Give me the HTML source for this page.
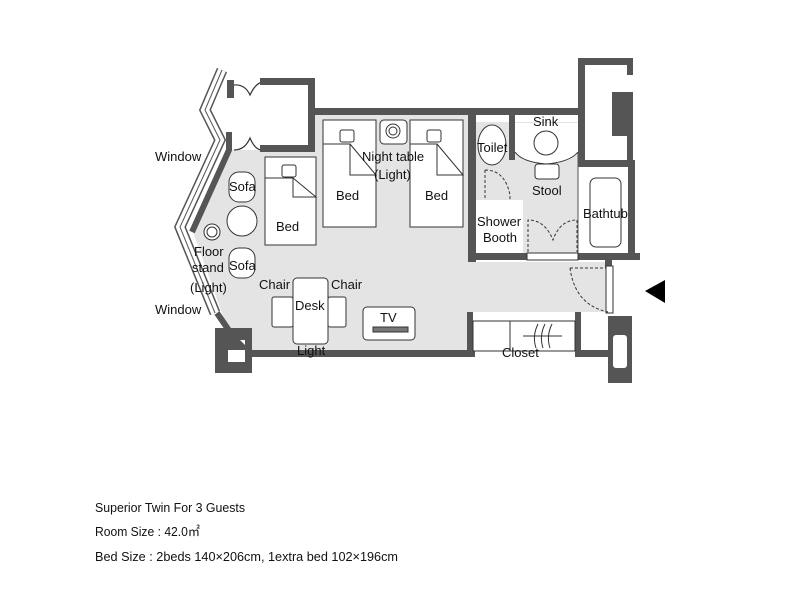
<!DOCTYPE html>
<html><head><meta charset="utf-8"><style>
html,body{margin:0;padding:0;background:#fff;width:800px;height:600px;overflow:hidden}
svg{display:block}
text{font-family:"Liberation Sans","DejaVu Sans",sans-serif;fill:#111}
</style></head><body>
<svg width="800" height="600" viewBox="0 0 800 600" xmlns="http://www.w3.org/2000/svg">
<polygon points="230,150 260,150 262,152 315,152 315,115 470,115 470,262 610,262 610,312 470,312 470,350 250,350 228,330 193,232" fill="#e4e4e4"/>
<rect x="476" y="122" width="102" height="132" fill="#e4e4e4"/>
<rect x="515" y="123" width="63" height="29" fill="#fff"/>
<rect x="476" y="200" width="47" height="53" fill="#fff"/>
<rect x="580" y="168" width="48" height="85" fill="#fff"/>
<line x1="578" y1="152" x2="578" y2="253" stroke="#555" stroke-width="1"/>
<polyline points="222,70 205,110 220,140 180,227 215,313" fill="none" stroke="#555" stroke-width="11" stroke-linejoin="miter"/>
<polyline points="222,70 205,110 220,140 180,227 215,313" fill="none" stroke="#fff" stroke-width="8" stroke-linejoin="miter"/>
<polyline points="222,70 205,110 220,140 180,227 215,313" fill="none" stroke="#555" stroke-width="1"/>
<polyline points="229,132 229,150 192,232" fill="none" stroke="#555" stroke-width="6"/>
<polyline points="217,313 230,332" fill="none" stroke="#555" stroke-width="6"/>
<rect x="227" y="80" width="7" height="18" fill="#555"/>
<path d="M234,85 Q245,84 250,95 Q255,84 262,82 M234,150 Q245,150 250,138 Q255,150 262,150" fill="none" stroke="#333" stroke-width="1.2"/>
<rect x="260" y="78" width="55" height="7" fill="#555"/>
<rect x="308" y="78" width="7" height="74" fill="#555"/>
<rect x="260" y="145" width="55" height="7" fill="#555"/>
<rect x="308" y="108" width="277" height="7" fill="#555"/>
<rect x="215" y="328" width="37" height="45" fill="#555"/>
<rect x="228" y="340" width="17" height="22" fill="#fff"/>
<polygon points="215,328 228,328 250,350 215,350" fill="#555"/>
<rect x="250" y="350" width="225" height="7" fill="#555"/>
<rect x="468" y="108" width="8" height="154" fill="#555"/>
<rect x="468" y="253" width="172" height="7" fill="#555"/>
<rect x="628" y="160" width="7" height="100" fill="#555"/>
<rect x="509" y="115" width="6" height="45" fill="#555"/>
<rect x="578" y="115" width="7" height="8" fill="#555"/>
<rect x="527" y="253" width="51" height="7" fill="#fff" stroke="#333" stroke-width="1"/>
<rect x="578" y="58" width="55" height="7" fill="#555"/>
<rect x="578" y="58" width="7" height="109" fill="#555"/>
<rect x="627" y="58" width="6" height="17" fill="#555"/>
<rect x="627" y="95" width="6" height="72" fill="#555"/>
<rect x="612" y="92" width="21" height="44" fill="#555"/>
<rect x="578" y="160" width="57" height="7" fill="#555"/>
<rect x="605" y="260" width="7" height="8" fill="#555"/>
<rect x="606" y="266" width="7" height="47" fill="#fff" stroke="#333" stroke-width="1"/>
<path d="M570,268 Q575,305 608,312" fill="none" stroke="#333" stroke-dasharray="3,2"/>
<line x1="570" y1="268" x2="606" y2="268" stroke="#333" stroke-dasharray="3,2"/>
<rect x="608" y="316" width="24" height="67" fill="#555"/>
<rect x="613" y="335" width="14" height="33" rx="3" fill="#fff"/>
<rect x="580" y="350" width="30" height="7" fill="#555"/>
<rect x="467" y="312" width="6" height="45" fill="#555"/>
<rect x="575" y="312" width="6" height="45" fill="#555"/>
<rect x="473" y="321" width="102" height="30" fill="#fff" stroke="#333" stroke-width="1"/>
<line x1="510" y1="321" x2="510" y2="351" stroke="#333"/>
<line x1="523" y1="336" x2="562" y2="336" stroke="#333"/>
<path d="M538,324 Q532,336 536,348 M545,324 Q539,336 543,348 M552,324 Q546,336 550,348" fill="none" stroke="#333"/>
<polygon points="645,291 665,280 665,303" fill="#000"/>
<ellipse cx="492" cy="145" rx="14" ry="20" fill="#fff" stroke="#333"/>
<path d="M485,170 Q505,170 510,195 L510,200 M485,170 L485,200" fill="none" stroke="#333" stroke-dasharray="3,2"/>
<path d="M515,152 Q522,162 546,164 Q570,162 578,152" fill="#fff" stroke="#333"/>
<circle cx="546" cy="143" r="12" fill="#fff" stroke="#333"/>
<rect x="535" y="164" width="24" height="15" rx="3" fill="#fff" stroke="#333"/>
<path d="M528,252 L528,220 Q545,220 553,240 Q560,220 577,220 L577,252" fill="none" stroke="#333" stroke-dasharray="3,2"/>
<rect x="590" y="178" width="31" height="69" rx="6" fill="#fff" stroke="#333"/>
<g fill="#fff" stroke="#333" stroke-width="1">
<rect x="265" y="157" width="51" height="88"/>
<rect x="323" y="120" width="53" height="107"/>
<rect x="410" y="120" width="53" height="107"/>
<rect x="380" y="120" width="27" height="24" rx="4"/>
<rect x="282" y="165" width="14" height="12" rx="2"/>
<rect x="340" y="130" width="14" height="12" rx="2"/>
<rect x="427" y="130" width="14" height="12" rx="2"/>
</g>
<g fill="none" stroke="#333">
<path d="M265,178 L293,178 L293,197 L316,197 L293,178"/>
<path d="M323,144 L350,144 L350,175 L376,175 L350,144"/>
<path d="M410,144 L437,144 L437,175 L463,175 L437,144"/>
</g>
<g fill="#fff" stroke="#333">
<rect x="229" y="172" width="26" height="30" rx="10"/>
<circle cx="242" cy="221" r="15"/>
<rect x="229" y="248" width="26" height="30" rx="10"/>
</g>
<g fill="#fff" stroke="#333">
<circle cx="393" cy="131" r="7"/><circle cx="393" cy="131" r="4"/>
<circle cx="212" cy="232" r="8"/><circle cx="212" cy="232" r="5"/>
<circle cx="311" cy="330" r="7"/><circle cx="311" cy="330" r="4"/>
</g>
<g fill="#fff" stroke="#333">
<rect x="272" y="297" width="21" height="30" rx="2"/>
<rect x="328" y="297" width="18" height="30" rx="2"/>
<rect x="293" y="278" width="35" height="66" rx="4"/>
<rect x="363" y="307" width="52" height="33" rx="4"/>
</g>
<rect x="373" y="327" width="35" height="5" fill="#777" stroke="#333"/>
<g font-size="13">
<text x="155" y="161">Window</text>
<text x="155" y="314">Window</text>
<text x="229" y="191">Sofa</text>
<text x="229" y="270">Sofa</text>
<text x="194" y="256">Floor</text>
<text x="192" y="272">stand</text>
<text x="190" y="292">(Light)</text>
<text x="276" y="231">Bed</text>
<text x="336" y="200">Bed</text>
<text x="425" y="200">Bed</text>
<text x="362" y="161">Night table</text>
<text x="374" y="179">(Light)</text>
<text x="259" y="289">Chair</text>
<text x="331" y="289">Chair</text>
<text x="295" y="310">Desk</text>
<text x="297" y="355">Light</text>
<text x="380" y="322">TV</text>
<text x="502" y="357">Closet</text>
<text x="477" y="152">Toilet</text>
<text x="533" y="126">Sink</text>
<text x="532" y="195">Stool</text>
<text x="477" y="226">Shower</text>
<text x="483" y="242">Booth</text>
<text x="583" y="218">Bathtub</text>
</g>
<g font-size="13">
<text x="95" y="512" textLength="150" lengthAdjust="spacingAndGlyphs">Superior Twin For 3 Guests</text>
<text x="95" y="536" textLength="105" lengthAdjust="spacingAndGlyphs">Room Size : 42.0㎡</text>
<text x="95" y="561" textLength="303" lengthAdjust="spacingAndGlyphs">Bed Size : 2beds 140×206cm, 1extra bed 102×196cm</text>
</g>
</svg>
</body></html>
